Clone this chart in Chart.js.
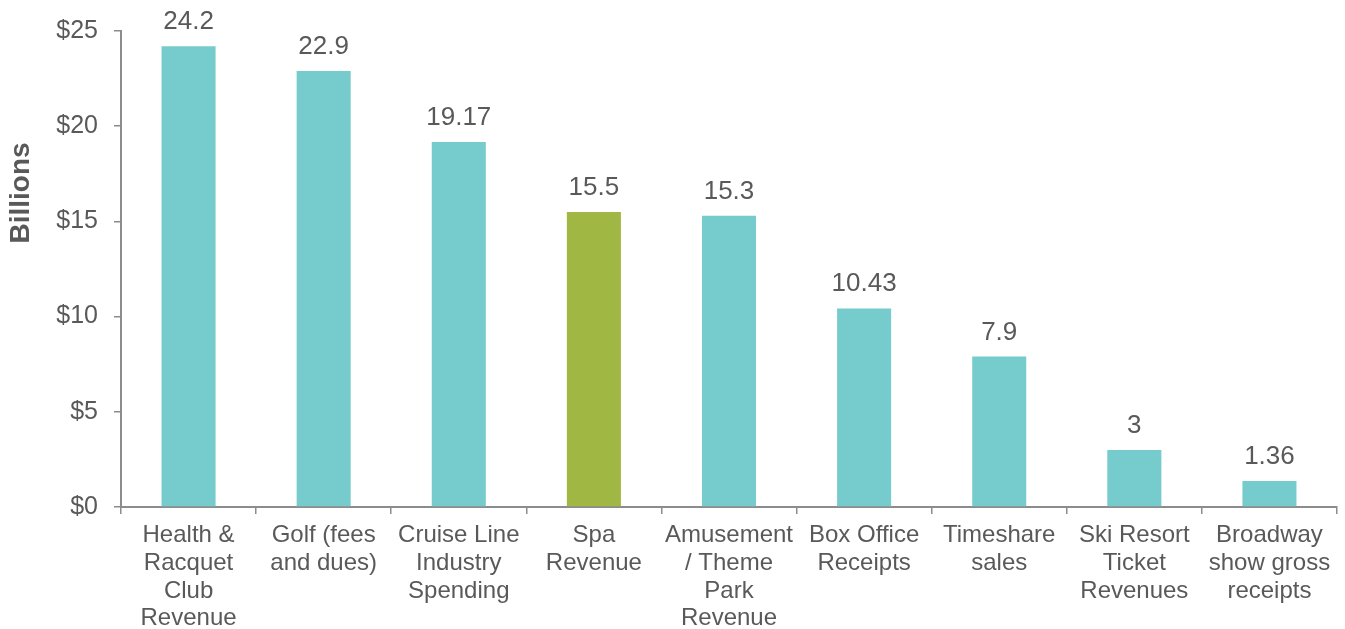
<!DOCTYPE html>
<html>
<head>
<meta charset="utf-8">
<script src="https://cdn.jsdelivr.net/npm/chart.js@4/dist/chart.umd.min.js"></script>
<style>
  html, body { margin: 0; padding: 0; background: #ffffff; }
  #wrap { width: 1345px; height: 629px; }
</style>
</head>
<body>
<div id="wrap"><canvas id="chart" width="1345" height="629"></canvas></div>
<script>
// Annual revenue by leisure segment, in billions of dollars
const categories = [
  ['Health &', 'Racquet', 'Club', 'Revenue'],
  ['Golf (fees', 'and dues)'],
  ['Cruise Line', 'Industry', 'Spending'],
  ['Spa', 'Revenue'],
  ['Amusement', '/ Theme', 'Park', 'Revenue'],
  ['Box Office', 'Receipts'],
  ['Timeshare', 'sales'],
  ['Ski Resort', 'Ticket', 'Revenues'],
  ['Broadway', 'show gross', 'receipts']
];
const revenues = [24.2, 22.9, 19.17, 15.5, 15.3, 10.43, 7.9, 3, 1.36];
const highlightIndex = 3; // Spa
const yTicks = [0, 5, 10, 15, 20, 25];
const yAxisTitle = 'Billions';

const TEAL = '#76cbcd';
const GREEN = '#a0b843';
const TEXT = '#595959';
const AXIS = '#8c8c8c';
const FONT = '"Liberation Sans", Arial, sans-serif';

// Value labels above each bar
const valueLabels = {
  id: 'valueLabels',
  afterDatasetsDraw(chart) {
    const ctx = chart.ctx;
    const meta = chart.getDatasetMeta(0);
    ctx.save();
    ctx.font = '26px ' + FONT;
    ctx.fillStyle = TEXT;
    ctx.textAlign = 'center';
    ctx.textBaseline = 'alphabetic';
    meta.data.forEach((bar, i) => {
      ctx.fillText(String(revenues[i]), bar.x, bar.y - 17);
    });
    ctx.restore();
  }
};

// Rotated y-axis title
const axisTitle = {
  id: 'axisTitle',
  afterDraw(chart) {
    const ctx = chart.ctx;
    ctx.save();
    ctx.translate(21, 193);
    ctx.rotate(-Math.PI / 2);
    ctx.font = 'bold 28px ' + FONT;
    ctx.fillStyle = TEXT;
    ctx.textAlign = 'center';
    ctx.textBaseline = 'middle';
    ctx.fillText(yAxisTitle, 0, 0);
    ctx.restore();
  }
};

new Chart(document.getElementById('chart'), {
  type: 'bar',
  data: {
    labels: categories,
    datasets: [{
      data: revenues,
      backgroundColor: revenues.map((_, i) => i === highlightIndex ? GREEN : TEAL),
      borderWidth: 0,
      categoryPercentage: 1.0,
      barPercentage: 0.4
    }]
  },
  options: {
    responsive: false,
    animation: false,
    layout: { padding: { top: 31, right: 8, left: 0, bottom: 0 } },
    plugins: {
      legend: { display: false },
      tooltip: { enabled: false }
    },
    scales: {
      x: {
        grid: {
          offset: true,
          drawOnChartArea: false,
          drawTicks: true,
          tickLength: 7,
          color: AXIS,
          lineWidth: 1.5
        },
        border: { display: true, color: AXIS, width: 2 },
        ticks: {
          color: TEXT,
          font: { family: FONT, size: 24, lineHeight: 1.15 },
          padding: 8,
          maxRotation: 0,
          autoSkip: false
        },
        afterFit(scale) { scale.height = 122; }
      },
      y: {
        min: 0,
        max: 25,
        afterBuildTicks(scale) { scale.ticks = yTicks.map(v => ({ value: v })); },
        grid: {
          drawOnChartArea: false,
          drawTicks: true,
          tickLength: 7,
          color: AXIS,
          lineWidth: 1.5
        },
        border: { display: true, color: AXIS, width: 2 },
        ticks: {
          color: TEXT,
          font: { family: FONT, size: 25 },
          padding: 16,
          callback: v => '$' + v
        },
        afterFit(scale) { scale.width = 121; }
      }
    }
  },
  plugins: [valueLabels, axisTitle]
});
</script>
</body>
</html>
